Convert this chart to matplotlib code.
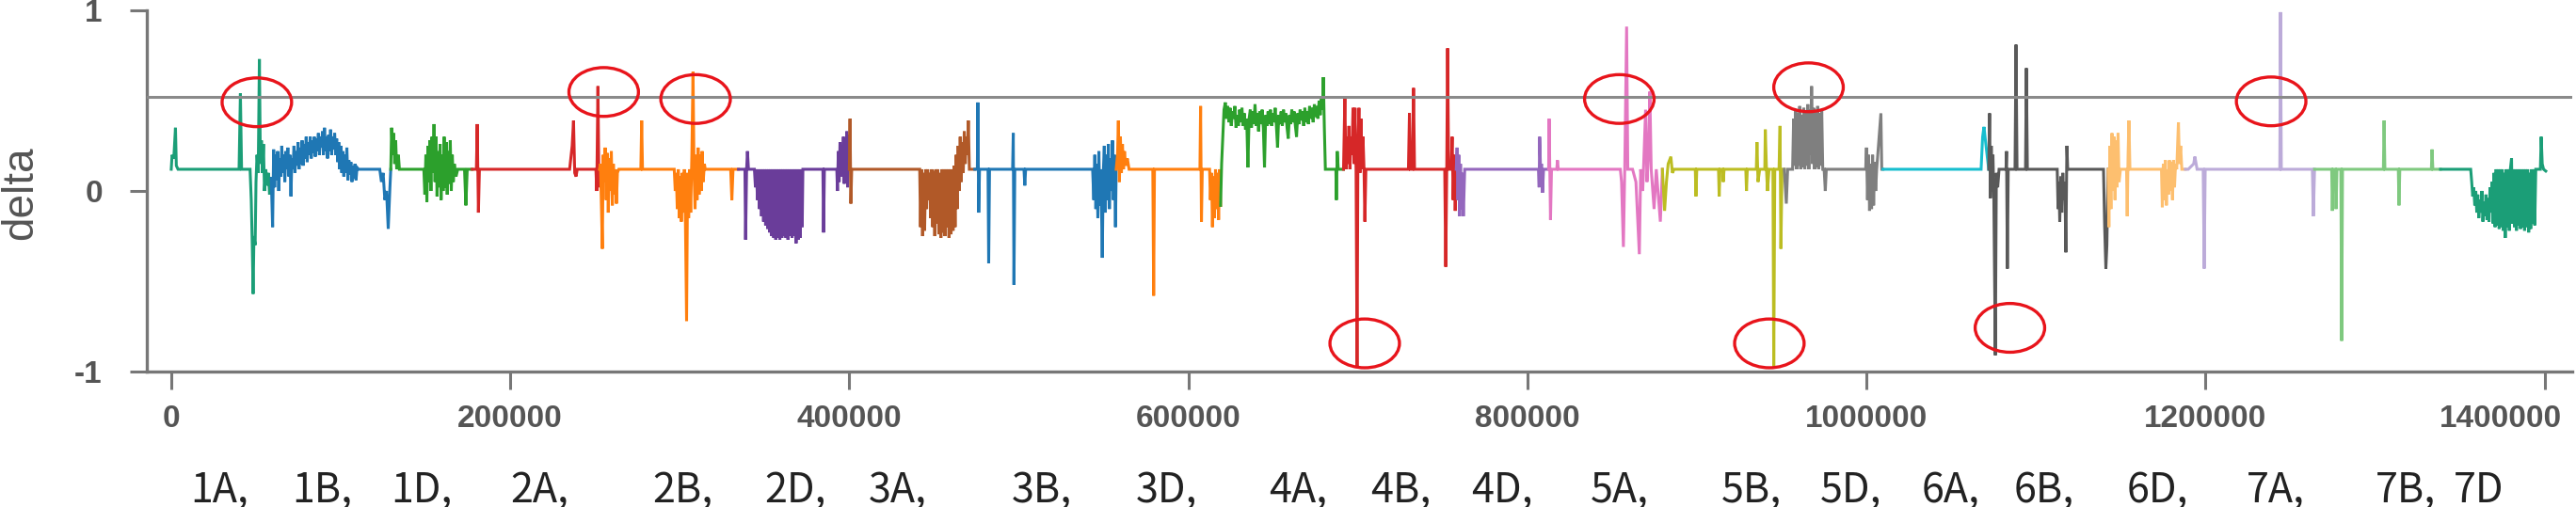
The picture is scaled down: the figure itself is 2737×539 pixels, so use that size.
import numpy as np
import matplotlib.pyplot as plt
from matplotlib.patches import Ellipse

# delta values along the genome, (position in kb, delta)
chr1A = [(0, 0.12), (0.5, 0.2), (1.5, 0.18), (2.5, 0.35), (3, 0.14), (4, 0.12), (40, 0.12), (40.8, 0.54),
         (41.5, 0.12), (46.5, 0.12), (47.2, -0.05), (47.8, -0.3), (48.3, -0.57), (48.8, -0.25), (49.5, -0.3),
         (50, 0.05), (50.6, 0.2), (51.3, 0.1), (52, 0.73), (52.6, 0.15), (53.2, 0.28), (53.8, 0.1), (54.4, 0.26),
         (55, 0.0), (55.8, 0.12), (56.5, 0.03), (57.3, 0.1), (58, -0.02), (59, 0.07)]
chr1B = [(59, 0.07), (59.8, -0.2), (60.4, 0.23), (61, 0.02), (61.6, 0.2), (62.2, 0.06), (62.8, 0.22), (63.4, 0.0),
         (64, 0.18), (64.6, 0.08), (65.2, 0.25), (65.8, 0.1), (66.4, 0.2), (67, 0.05), (67.6, 0.22), (68.2, 0.12),
         (68.8, 0.24), (69.4, 0.08), (70, 0.2), (70.6, -0.03), (71.2, 0.18), (71.8, 0.12), (72.4, 0.25), (73, 0.1),
         (73.6, 0.22), (74.2, 0.14), (74.8, 0.27), (75.4, 0.12), (76, 0.24), (76.6, 0.15), (77.2, 0.28), (77.8, 0.14),
         (78.4, 0.26), (79, 0.18), (79.6, 0.3), (80.2, 0.16), (80.8, 0.27), (81.4, 0.2), (82, 0.3), (82.6, 0.18),
         (83.2, 0.28), (83.8, 0.21), (84.4, 0.3), (85, 0.19), (85.6, 0.29), (86.2, 0.22), (86.8, 0.32), (87.4, 0.2),
         (88, 0.3), (88.6, 0.24), (89.2, 0.33), (89.8, 0.2), (90.4, 0.35), (91, 0.22), (91.6, 0.3), (92.2, 0.18),
         (92.8, 0.31), (93.4, 0.22), (94, 0.34), (94.6, 0.2), (95.2, 0.3), (95.8, 0.23), (96.4, 0.32), (97, 0.2),
         (97.6, 0.29), (98.2, 0.16), (98.8, 0.27), (99.4, 0.12), (100, 0.25), (100.6, 0.1), (101.2, 0.22),
         (101.8, 0.08), (102.4, 0.2), (103, 0.1), (103.6, 0.24), (104.2, 0.06), (104.8, 0.17), (105.4, 0.09),
         (106, 0.16), (106.6, 0.05), (107.2, 0.14), (107.8, 0.07), (108.4, 0.15), (109, 0.06), (109.6, 0.13),
         (110.5, 0.12), (123, 0.12), (124, 0.05), (125, 0.1), (126, -0.05), (127, 0.0), (128, -0.21), (129, 0.02),
         (129.5, 0.12)]
chr1D = [(129.5, 0.12), (130, 0.35), (130.6, 0.2), (131.2, 0.32), (131.8, 0.15), (132.4, 0.28), (133, 0.12),
         (134, 0.2), (134.6, 0.12), (149, 0.12), (149.6, -0.02), (150.2, 0.2), (150.8, -0.06), (151.4, 0.25),
         (152, 0.05), (152.6, 0.28), (153.2, 0.0), (153.8, 0.3), (154.4, 0.1), (155, 0.37), (155.6, 0.05),
         (156.2, 0.3), (156.8, -0.03), (157.4, 0.22), (158, 0.02), (158.6, 0.26), (159.2, -0.05), (159.8, 0.2),
         (160.4, 0.0), (161, 0.3), (161.6, 0.02), (162.2, 0.27), (162.8, -0.02), (163.4, 0.22), (164, 0.04),
         (164.6, 0.28), (165.2, 0.0), (165.8, 0.2), (166.4, 0.05), (167, 0.15), (168, 0.08), (169, 0.12),
         (173, 0.12), (173.8, -0.08), (174.6, 0.12), (177.5, 0.12)]
chr2A = [(177.5, 0.12), (180, 0.12), (180.5, 0.37), (181.2, -0.12), (181.8, 0.12), (235, 0.12), (236.5, 0.25),
         (237.3, 0.39), (238, 0.1), (238.8, 0.08), (239.5, 0.12), (250.5, 0.12), (251, 0.0), (251.7, 0.58),
         (252.3, 0.02), (252.6, 0.12)]
chr2B = [(252.6, 0.12), (253.2, 0.15), (253.8, -0.1), (254.3, -0.32), (254.8, 0.2), (255.4, 0.05), (256, 0.24),
         (256.6, -0.05), (257.2, 0.21), (257.8, -0.12), (258.4, 0.18), (259, 0.0), (259.6, 0.22), (260.2, -0.08),
         (260.8, 0.15), (261.4, -0.02), (262, 0.12), (262.6, -0.07), (263.2, 0.1), (264, 0.12), (277, 0.12),
         (277.5, 0.39), (278, 0.12), (296.7, 0.12), (297.3, 0.0), (297.9, 0.1), (298.5, -0.1), (299.1, 0.12),
         (299.7, -0.15), (300.3, 0.08), (300.9, -0.17), (301.5, 0.1), (302.1, -0.12), (302.7, 0.12), (303.3, -0.16),
         (304, -0.72), (304.6, 0.1), (305.2, -0.15), (305.8, 0.12), (306.4, -0.12), (307.1, 0.2), (307.8, 0.66),
         (308.4, 0.1), (309, -0.1), (309.6, 0.2), (310.2, -0.05), (310.8, 0.24), (311.4, -0.02), (312, 0.2),
         (312.6, 0.0), (313.2, 0.22), (313.8, 0.05), (314.5, 0.15), (315, 0.12), (330, 0.12), (330.7, -0.05),
         (331.4, 0.12), (334.6, 0.12)]
chr2D = [(334.6, 0.12), (338.4, 0.12), (338.8, -0.27), (339.4, 0.12), (339.9, 0.22), (340.5, 0.12), (344, 0.12),
         (344.6, 0.02), (345.2, 0.12), (345.8, -0.05), (346.4, 0.12), (347, -0.1), (347.6, 0.12), (348.2, -0.14),
         (348.8, 0.12), (349.4, -0.17), (350, 0.12), (350.6, -0.19), (351.2, 0.12), (351.8, -0.21), (352.4, 0.12),
         (353, -0.23), (353.6, 0.12), (354.2, -0.25), (354.8, 0.12), (355.4, -0.26), (356, 0.12), (356.6, -0.27),
         (357.2, 0.12), (357.8, -0.26), (358.4, 0.12), (359, -0.27), (359.6, 0.12), (360.2, -0.26), (360.8, 0.12),
         (361.4, -0.25), (362, 0.12), (362.6, -0.26), (363.2, 0.12), (363.8, -0.27), (364.4, 0.12), (365, -0.25),
         (365.6, 0.12), (366.2, -0.26), (366.8, 0.12), (367.4, -0.25), (368, 0.12), (368.6, -0.29), (369.2, 0.12),
         (369.8, -0.27), (370.4, 0.12), (371, -0.26), (371.6, 0.12), (372.2, -0.2), (372.6, 0.12), (384.4, 0.12),
         (384.8, -0.23), (385.3, 0.12), (392.6, 0.12), (393, 0.0), (393.5, 0.22), (394, 0.05), (394.5, 0.27),
         (395, 0.08), (395.5, 0.25), (396, 0.1), (396.5, 0.3), (397, 0.04), (397.5, 0.26), (398, 0.1), (398.5, 0.33),
         (399, 0.02), (399.5, 0.31), (400, 0.12)]
chr3A = [(400, 0.12), (400.4, 0.4), (400.9, -0.07), (401.4, 0.12), (441.5, 0.12), (442, -0.2), (442.6, 0.12),
         (443.2, -0.25), (443.8, 0.1), (444.4, -0.22), (445, 0.12), (445.6, -0.1), (446.2, 0.12), (446.8, -0.05),
         (447.4, 0.1), (448, -0.15), (448.6, 0.12), (449.2, -0.2), (449.8, 0.11), (450.4, -0.25), (451, 0.12),
         (451.6, -0.18), (452.2, 0.12), (452.8, -0.24), (453.4, 0.1), (454, -0.26), (454.6, 0.12), (455.2, -0.23),
         (455.8, 0.12), (456.4, -0.25), (457, 0.12), (457.6, -0.2), (458.2, 0.12), (458.8, -0.26), (459.4, 0.12),
         (460, -0.24), (460.6, 0.12), (461.2, -0.22), (461.8, 0.14), (462.4, -0.2), (463, 0.2), (463.6, -0.1),
         (464.2, 0.25), (464.8, 0.0), (465.4, 0.3), (466, 0.05), (466.6, 0.27), (467.2, 0.1), (467.8, 0.33),
         (468.4, 0.15), (469, 0.3), (469.6, 0.2), (470.2, 0.39), (470.8, 0.12), (474, 0.12)]
chr3B = [(474, 0.12), (475.5, 0.12), (475.8, 0.49), (476.3, -0.12), (476.8, 0.12), (481.8, 0.12), (482.2, -0.4),
         (482.7, 0.12), (496.3, 0.12), (496.7, 0.32), (497.1, -0.52), (497.6, 0.12), (503, 0.12), (503.5, 0.03),
         (504, 0.12), (543.5, 0.12), (544.2, -0.05), (544.8, 0.2), (545.4, -0.1), (546, 0.15), (546.6, -0.15),
         (547.2, 0.22), (547.8, -0.08), (548.4, 0.12), (549.2, -0.37), (549.8, 0.1), (550.4, 0.25), (551, -0.12),
         (551.6, 0.2), (552.2, -0.05), (552.8, 0.26), (553.4, -0.1), (554, 0.18), (554.6, 0.0), (555.2, 0.28),
         (555.8, -0.05), (556.4, 0.2), (557, -0.2), (557.4, 0.12)]
chr3D = [(557.4, 0.12), (558.2, 0.2), (558.7, 0.39), (559.3, 0.05), (559.9, 0.3), (560.5, 0.1), (561.1, 0.26),
         (561.7, 0.12), (562.3, 0.22), (563, 0.14), (564, 0.18), (565, 0.12), (579, 0.12), (579.5, -0.58),
         (580, 0.12), (606.8, 0.12), (607.2, 0.47), (607.7, -0.17), (608.2, 0.12), (612.5, 0.12), (613, -0.05),
         (613.6, 0.1), (614.2, -0.2), (614.8, 0.08), (615.4, -0.15), (616, 0.12), (616.6, -0.1), (617.2, 0.1),
         (617.8, -0.16), (618.4, 0.12), (619, -0.08)]
chr4A = [(619, -0.08), (619.6, 0.15), (620.3, 0.3), (621, 0.45), (621.8, 0.49), (622.5, 0.4), (623.2, 0.47),
         (623.9, 0.38), (624.6, 0.46), (625.3, 0.36), (626, 0.44), (626.7, 0.4), (627.4, 0.47), (628.1, 0.35),
         (628.8, 0.42), (629.5, 0.36), (630.2, 0.45), (630.9, 0.38), (631.6, 0.46), (632.3, 0.36), (633, 0.43),
         (633.7, 0.34), (634.4, 0.4), (635.1, 0.13), (635.8, 0.4), (636.5, 0.45), (637.2, 0.35), (637.9, 0.44),
         (638.6, 0.37), (639.3, 0.48), (640, 0.36), (640.7, 0.43), (641.4, 0.33), (642.1, 0.44), (642.8, 0.37),
         (643.5, 0.45), (644.2, 0.35), (644.9, 0.13), (645.6, 0.42), (646.3, 0.36), (647, 0.44), (647.7, 0.37),
         (648.4, 0.45), (649.1, 0.36), (649.8, 0.43), (650.5, 0.38), (651.2, 0.46), (651.9, 0.36), (652.6, 0.24),
         (653.3, 0.42), (654, 0.37), (654.7, 0.44), (655.4, 0.36), (656.1, 0.45), (656.8, 0.38), (657.5, 0.43),
         (658.2, 0.35), (658.9, 0.29), (659.6, 0.42), (660.3, 0.37), (661, 0.45), (661.7, 0.38), (662.4, 0.44),
         (663.1, 0.36), (663.8, 0.3), (664.5, 0.43), (665.2, 0.37), (665.9, 0.45), (666.6, 0.39), (667.3, 0.44),
         (668, 0.36), (668.7, 0.46), (669.4, 0.38), (670.1, 0.44), (670.8, 0.37), (671.5, 0.47), (672.2, 0.4),
         (672.9, 0.46), (673.6, 0.38), (674.3, 0.48), (675, 0.41), (675.7, 0.47), (676.4, 0.4), (677.1, 0.5),
         (677.8, 0.42), (678.5, 0.52), (679.2, 0.45), (679.6, 0.63), (680.2, 0.35), (680.8, 0.12), (687, 0.12),
         (687.3, -0.05), (687.8, 0.22), (688.4, 0.12), (691.5, 0.12)]
chr4B = [(691.5, 0.12), (692.3, 0.52), (692.9, 0.12), (693.5, 0.3), (694.1, 0.15), (694.7, 0.36), (695.3, 0.12),
         (695.9, 0.3), (696.5, 0.2), (697.1, 0.46), (697.7, 0.15), (698.3, 0.46), (698.9, 0.12), (699.5, -0.98),
         (700, 0.2), (700.6, 0.46), (701.2, 0.1), (701.8, 0.4), (702.4, 0.12), (703, 0.3), (703.6, 0.12),
         (704.1, -0.17), (704.7, 0.12), (729.8, 0.12), (730.4, 0.43), (731, 0.12), (732.2, 0.12), (732.8, 0.57),
         (733.4, 0.12), (751.2, 0.12), (751.8, -0.42), (752.4, 0.12), (752.9, 0.79), (753.5, 0.12), (755, 0.12),
         (755.6, 0.3), (756.2, -0.05), (756.8, 0.2), (757.4, -0.11), (758, 0.12)]
chr4D = [(758, 0.12), (758.5, 0.24), (759, -0.05), (759.5, 0.2), (760, -0.14), (760.5, 0.15), (761, -0.1),
         (761.6, 0.1), (762.2, -0.14), (763, 0.12), (806.5, 0.12), (806.9, 0.02), (807.2, 0.3), (807.8, 0.1),
         (808.3, 0.15), (808.9, -0.01), (809.5, 0.12), (812.5, 0.12)]
chr5A = [(812.5, 0.12), (812.8, 0.4), (813.6, -0.16), (814.2, 0.12), (817.3, 0.12), (817.7, 0.17), (818.2, 0.12),
         (854.8, 0.12), (855.5, 0.05), (856.6, -0.31), (857.4, 0.12), (858.5, 0.91), (859.2, 0.12), (862, 0.12),
         (864, 0.05), (866, -0.35), (866.8, 0.12), (868, 0.0), (869.7, 0.45), (870.5, 0.05), (871.4, 0.2),
         (872.2, 0.55), (873, 0.12), (874.7, -0.1), (876, 0.12), (878.4, -0.17), (879.6, 0.12)]
chr5B = [(879.6, 0.12), (880.9, -0.11), (882, 0.05), (883, 0.15), (884.6, 0.19), (885.5, 0.1), (886.5, 0.12),
         (899, 0.12), (899.4, -0.03), (899.9, 0.12), (912.7, 0.12), (913.1, -0.03), (913.6, 0.12), (915.2, 0.12),
         (915.5, 0.05), (916, 0.12), (928.8, 0.12), (929.2, 0.0), (929.7, 0.12), (935, 0.12), (935.4, 0.27),
         (936, 0.05), (937, 0.12), (940, 0.12), (940.3, 0.34), (941, 0.12), (941.6, 0.0), (942.5, 0.12),
         (944.8, 0.12), (945.3, -0.98), (945.9, 0.12), (948.4, 0.12), (949, 0.36), (949.5, -0.32), (950.2, 0.12),
         (951.5, 0.12)]
chr5D = [(951.5, 0.12), (952.7, -0.07), (953.5, 0.12), (956.4, 0.12), (957, 0.4), (957.6, 0.14), (958.2, 0.45),
         (958.8, 0.12), (959.4, 0.43), (960, 0.14), (960.6, 0.47), (961.2, 0.12), (961.8, 0.42), (962.4, 0.13),
         (963, 0.46), (963.6, 0.12), (964.2, 0.44), (964.8, 0.14), (965.4, 0.48), (966, 0.12), (966.6, 0.45),
         (967.2, 0.2), (967.6, 0.58), (968.2, 0.15), (968.8, 0.46), (969.4, 0.12), (970, 0.44), (970.6, 0.13),
         (971.2, 0.47), (971.8, 0.12), (972.4, 0.43), (973, 0.14), (973.6, 0.45), (974.2, 0.12), (975, 0.12),
         (975.7, 0.0), (976.3, 0.12), (999.5, 0.12), (1000, 0.24), (1000.6, -0.05), (1001.2, 0.2), (1001.8, -0.11),
         (1002.4, 0.15), (1003, -0.1), (1003.6, 0.2), (1004.2, -0.08), (1004.8, 0.16), (1005.4, 0.0), (1006, 0.12),
         (1008.5, 0.43), (1009, 0.12), (1009.7, 0.12)]
chr6A = [(1009.7, 0.12), (1067.6, 0.12), (1068.5, 0.3), (1069.3, 0.355), (1070.5, 0.25), (1072.1, 0.12)]
chr6B = [(1072.1, 0.12), (1072.6, 0.43), (1073.1, -0.04), (1073.6, 0.25), (1074.1, 0.0), (1074.6, 0.2),
         (1075.1, -0.03), (1076, -0.91), (1076.6, 0.1), (1077.4, 0.02), (1078.2, 0.12), (1082.3, 0.12),
         (1082.6, 0.22), (1083.1, -0.43), (1083.6, 0.12), (1087.6, 0.12), (1088.2, 0.81), (1088.8, 0.12),
         (1093.8, 0.12), (1094.3, 0.68), (1094.9, 0.12), (1112.5, 0.12), (1113, -0.1), (1113.5, 0.05), (1114, -0.17),
         (1114.6, 0.08), (1115.2, -0.12), (1115.8, 0.1), (1116.4, -0.05), (1117, 0.05), (1117.6, -0.34),
         (1118.2, 0.25), (1118.7, 0.12), (1139.8, 0.12), (1140.5, -0.2), (1141.2, -0.43), (1141.8, -0.3),
         (1142.5, 0.12)]
chr6D = [(1142.5, 0.12), (1143, -0.2), (1143.6, 0.25), (1144.2, -0.1), (1144.8, 0.32), (1145.4, 0.0), (1146, 0.3),
         (1146.6, -0.05), (1147.2, 0.28), (1147.8, 0.02), (1148.4, 0.32), (1149, 0.05), (1149.8, 0.12),
         (1153.4, 0.12), (1153.8, -0.14), (1154.3, 0.2), (1154.8, 0.39), (1155.4, 0.12), (1174, 0.12),
         (1174.5, -0.09), (1175.1, 0.15), (1175.7, -0.05), (1176.3, 0.17), (1176.9, -0.08), (1177.5, 0.12),
         (1178.1, -0.02), (1178.7, 0.17), (1179.3, 0.0), (1179.9, 0.16), (1180.5, -0.05), (1181.1, 0.17),
         (1181.7, 0.02), (1182.3, 0.15), (1183, 0.12), (1184, 0.38), (1184.6, 0.15), (1185.3, 0.25), (1186, 0.12),
         (1188.1, 0.12)]
chr7A = [(1188.1, 0.12), (1189.8, 0.12), (1193, 0.15), (1193.7, 0.19), (1195, 0.12), (1198.6, 0.12),
         (1199.2, -0.43), (1199.8, 0.12), (1243.8, 0.12), (1244.2, 0.99), (1244.7, 0.12), (1263, 0.12),
         (1263.6, -0.14), (1264.3, 0.12)]
chr7B = [(1264.3, 0.12), (1274.4, 0.12), (1274.8, -0.11), (1275.3, 0.12), (1276.5, 0.12), (1277, -0.1),
         (1277.5, 0.12), (1279.8, 0.12), (1280.3, -0.83), (1280.8, 0.12), (1304.9, 0.12), (1305.3, 0.39),
         (1305.8, 0.12), (1313.7, 0.12), (1314.1, -0.08), (1314.6, 0.12), (1333.2, 0.12), (1333.6, 0.23),
         (1334.1, 0.12), (1338.6, 0.12)]
chr7D = [(1338.6, 0.12), (1356.4, 0.12), (1357, 0.05), (1357.6, -0.03), (1358.2, 0.02), (1358.8, -0.08),
         (1359.4, 0.0), (1360, -0.12), (1360.6, -0.02), (1361.2, -0.15), (1361.8, -0.05), (1362.4, -0.12),
         (1363, 0.0), (1363.6, -0.17), (1364.2, -0.06), (1364.8, -0.14), (1365.4, -0.02), (1366, -0.16),
         (1366.6, -0.04), (1367.2, -0.17), (1367.8, 0.02), (1368.4, -0.12), (1369, 0.05), (1369.6, -0.18),
         (1370.2, 0.1), (1370.8, -0.2), (1371.4, 0.12), (1372, -0.19), (1372.6, 0.12), (1373.2, -0.21),
         (1373.8, 0.12), (1374.4, -0.2), (1375, 0.12), (1375.6, -0.22), (1376.2, 0.1), (1376.8, -0.26),
         (1377.4, 0.12), (1378, -0.2), (1378.6, 0.12), (1379.2, -0.22), (1379.8, 0.12), (1380.5, 0.18),
         (1381, -0.18), (1381.6, 0.12), (1382.2, -0.2), (1382.8, 0.12), (1383.4, -0.22), (1384, 0.12),
         (1384.6, -0.19), (1385.2, 0.12), (1385.8, -0.21), (1386.4, 0.12), (1387, -0.2), (1387.6, 0.12),
         (1388.2, -0.22), (1388.8, 0.12), (1389.4, -0.2), (1390, 0.12), (1390.6, -0.23), (1391.2, 0.1),
         (1391.8, -0.21), (1392.4, 0.12), (1393, -0.18), (1393.6, 0.12), (1394.2, -0.19), (1394.8, 0.12),
         (1397.5, 0.12), (1398, 0.3), (1398.6, 0.15), (1399.4, 0.12), (1400.7, 0.11)]

chroms = ['1A', '1B', '1D', '2A', '2B', '2D', '3A', '3B', '3D', '4A', '4B', '4D',
          '5A', '5B', '5D', '6A', '6B', '6D', '7A', '7B', '7D']
series = [chr1A, chr1B, chr1D, chr2A, chr2B, chr2D, chr3A, chr3B, chr3D, chr4A, chr4B, chr4D,
          chr5A, chr5B, chr5D, chr6A, chr6B, chr6D, chr7A, chr7B, chr7D]
colors = ['#1b9e77', '#1f77b4', '#2ca02c', '#d62728', '#ff7f0e', '#6a3d9a', '#b15928', '#1f77b4',
          '#ff7f0e', '#2ca02c', '#d62728', '#9467bd', '#e377c2', '#bcbd22', '#7f7f7f', '#17becf',
          '#595959', '#fdbf6f', '#bcabd9', '#7fc97f', '#1b9e77']

threshold = 0.523

# circled peaks (position in bp, delta)
circled = [(50500, 0.491), (255100, 0.548), (309300, 0.509), (704000, -0.844), (854200, 0.509),
           (965800, 0.574), (942700, -0.844), (1084600, -0.758), (1238700, 0.496)]

# chromosome label row under the axis, left edge in pixels
label_left_px = [202, 310, 415, 542, 693, 812, 923, 1075, 1207, 1348, 1456, 1563,
                 1690, 1829, 1934, 2042, 2140, 2260, 2387, 2524, 2607]

W, H = 2737, 539
fig = plt.figure(figsize=(W / 100, H / 100), dpi=100)
ax = fig.add_axes([156 / W, 1 - 395 / H, (2733 - 156) / W, (395 - 11) / H])

for pts, c in zip(series, colors):
    arr = np.array(pts)
    ax.plot(arr[:, 0] * 1000, arr[:, 1], color=c, lw=2.2, solid_joinstyle='miter')

ax.axhline(threshold, color='#8a8a8a', lw=2.2, zorder=3)

for cx, cy in circled:
    ax.add_patch(Ellipse((cx, cy), width=41000, height=0.27, fill=False,
                         edgecolor='#e8141b', lw=2.4, zorder=5, clip_on=False))

ax.set_xlim(-14400, 1416300)
ax.set_ylim(-1, 1)
ax.spines['top'].set_visible(False)
ax.spines['right'].set_visible(False)
for s in ['left', 'bottom']:
    ax.spines[s].set_color('#777777')
    ax.spines[s].set_linewidth(2.4)

tick_font = dict(family='Liberation Sans', weight='bold', size=24, color='#555555')

xt = list(range(0, 1400001, 200000))
ax.set_xticks(xt)
# last label sits shifted left so it stays inside the picture
ax.set_xticklabels([str(v) for v in xt[:-1]] + [''])
ax.set_yticks([-1, 0, 1])
ax.set_yticklabels(['-1', '0', '1'])
ax.tick_params(axis='x', direction='out', length=14, width=2.2, color='#777777', pad=11)
ax.tick_params(axis='y', direction='out', length=13, width=2.2, color='#777777', pad=21)
for lab in ax.get_xticklabels() + ax.get_yticklabels():
    lab.set_fontfamily(tick_font['family'])
    lab.set_fontweight(tick_font['weight'])
    lab.set_fontsize(tick_font['size'])
    lab.set_color(tick_font['color'])

fig.text(2722 / W, 1 - 430 / H, str(xt[-1]), ha='right', va='top', **tick_font)

fig.text(22 / W, 1 - 205 / H, 'delta', rotation=90, ha='center', va='center',
         fontsize=33, color='#555555', family='Liberation Sans')

for name, px in zip(chroms, label_left_px):
    txt = name if name == '7D' else name + ','
    fig.text(px / W, 1 - 534 / H, txt, ha='left', va='baseline', fontsize=31,
             color='#222222', family=['Noto Sans CJK SC', 'DejaVu Sans'])

fig.savefig('out.png', dpi=100)
